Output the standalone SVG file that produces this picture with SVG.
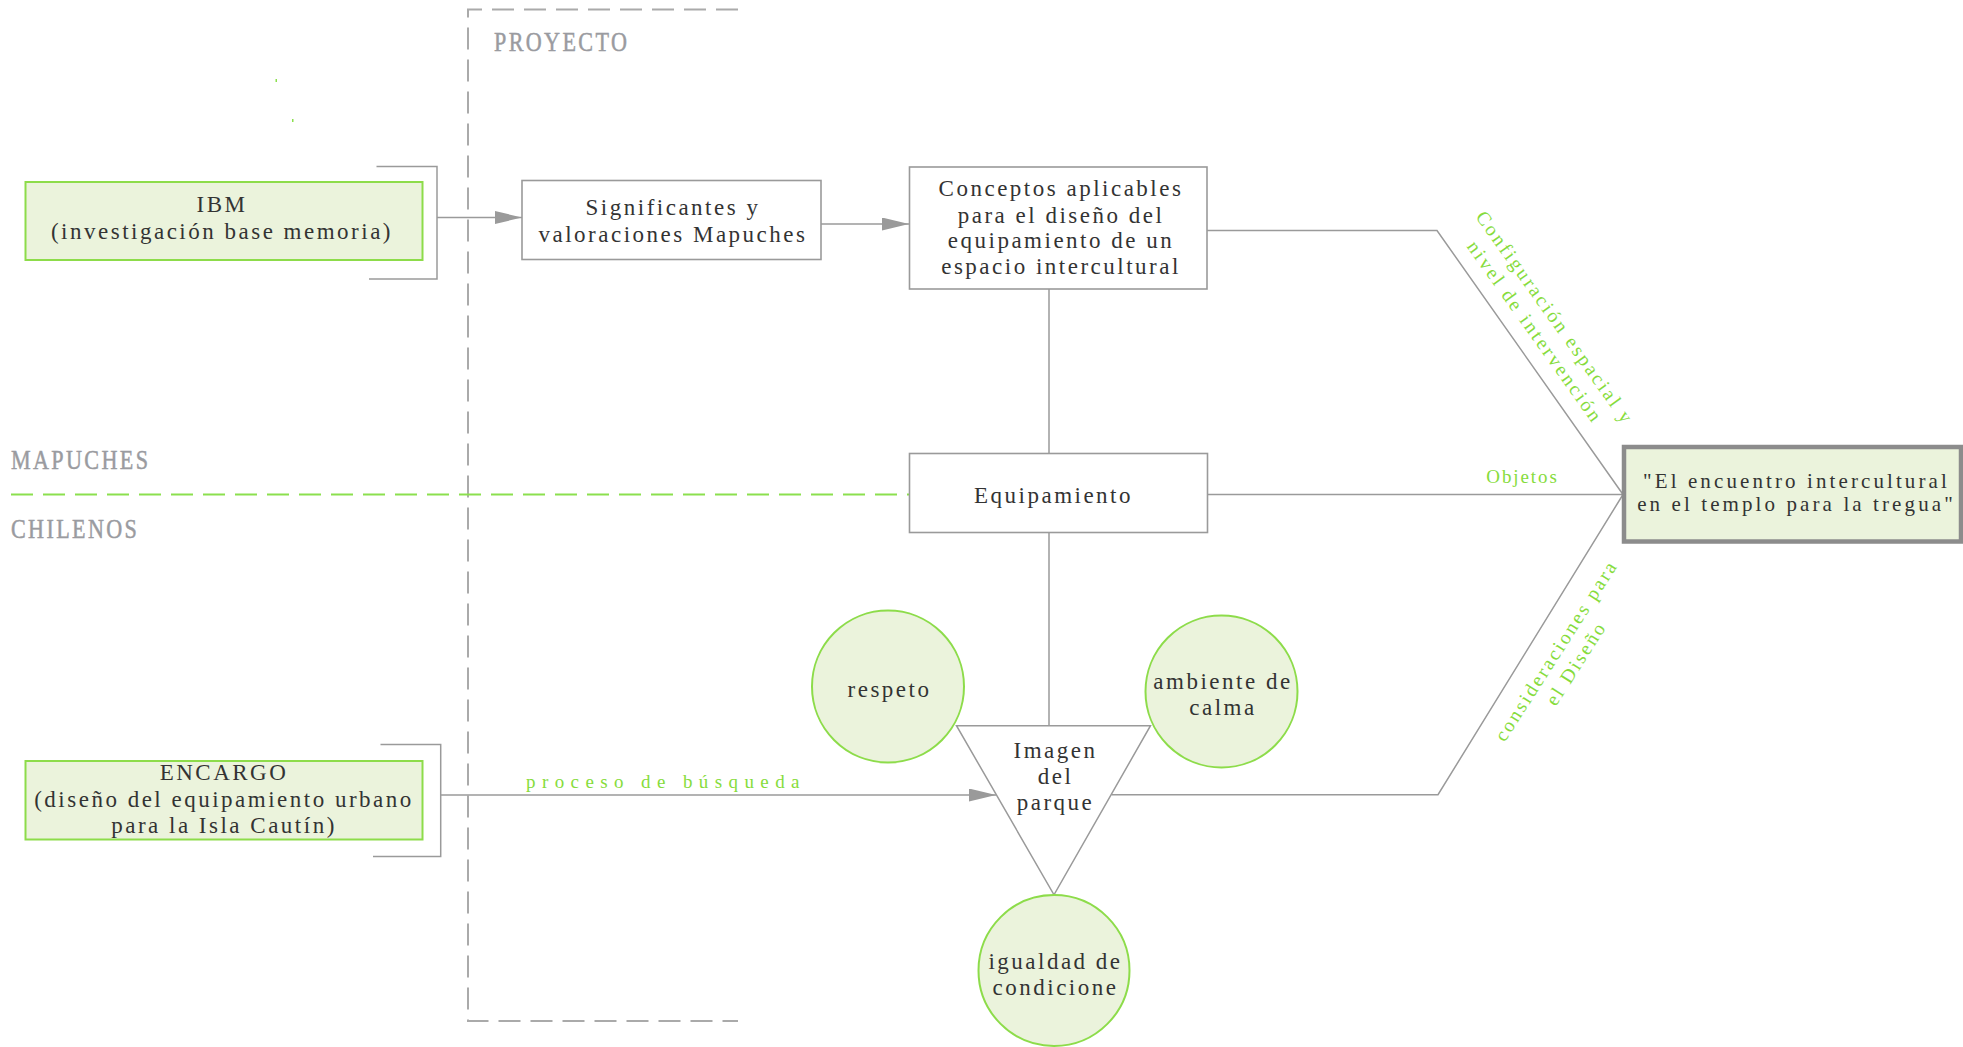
<svg xmlns="http://www.w3.org/2000/svg" width="1963" height="1047" viewBox="0 0 1963 1047">
<style>
.t{font-family:"Liberation Serif","Times New Roman",serif;font-size:23px;fill:#333;letter-spacing:2.5px;text-anchor:middle}
.lab{font-family:"Liberation Serif","Times New Roman",serif;font-size:28px;fill:#9a9ba0;stroke:#9a9ba0;stroke-width:0.5;letter-spacing:3px}
.g{font-family:"Liberation Serif","Times New Roman",serif;fill:#86dc3c;text-anchor:middle}
.box{fill:#fff;stroke:#9a9a9a;stroke-width:1.6}
.gbox{fill:#ebf3dc;stroke:#8ddc4a;stroke-width:2}
.ln{fill:none;stroke:#9a9a9a;stroke-width:1.5}
</style>
<defs>
<marker id="arr" viewBox="0 0 27 13" refX="27" refY="6.5" markerWidth="27" markerHeight="13" markerUnits="userSpaceOnUse" orient="auto">
<path d="M0,0 L27,6.5 L0,13 Z" fill="#9a9a9a"/>
</marker>
</defs>
<rect width="1963" height="1047" fill="#fff"/>

<g id="frame">
<path d="M738,9.5 H468 V1021 H738" fill="none" stroke="#aaa" stroke-width="2" stroke-dasharray="22 10"/>
<path d="M11,494.5 H909" fill="none" stroke="#8be04e" stroke-width="2" stroke-dasharray="22 10"/>
<text class="lab" transform="translate(494,50.5) scale(0.79,1)">PROYECTO</text>
<text class="lab" transform="translate(11,468.5) scale(0.79,1)">MAPUCHES</text>
<text class="lab" transform="translate(11,537.5) scale(0.79,1)">CHILENOS</text>
<rect x="275.5" y="79" width="1.5" height="3" fill="#8be04e"/>
<rect x="292" y="119" width="1.5" height="3" fill="#8be04e"/>
</g>

<g id="connectors">
<path class="ln" d="M376.5,166.5 H437 V279 H369"/>
<path class="ln" d="M380.5,744.5 H440.7 V856.5 H373"/>
<path class="ln" d="M437,217.5 H522" marker-end="url(#arr)"/>
<path class="ln" d="M821,224 H909" marker-end="url(#arr)"/>
<path class="ln" d="M440.7,795 H996" marker-end="url(#arr)"/>
<path class="ln" d="M1049,289 V453"/>
<path class="ln" d="M1049,532.5 V725.7"/>
<path class="ln" d="M1207,230.5 H1437 L1623,494.5"/>
<path class="ln" d="M1208,494.5 H1623"/>
<path class="ln" d="M1111.5,794.7 H1438 L1623,494.5"/>
<text class="g" x="1522.5" y="483" style="font-size:19px;letter-spacing:1.9px">Objetos</text>
<text class="g" x="666" y="788" style="font-size:19px;letter-spacing:6.4px">proceso de búsqueda</text>
<text class="g" transform="translate(1549,320.5) rotate(54.5)" style="font-size:19.5px;letter-spacing:2.6px"><tspan x="1.3" y="0">Configuración espacial y</tspan><tspan x="1.3" y="24.5">nivel de intervención</tspan></text>
<text class="g" transform="translate(1561,655) rotate(-57.4)" style="font-size:19.5px;letter-spacing:2.4px"><tspan x="1.2" y="0">consideraciones para</tspan><tspan x="1.2" y="23.7">el Diseño</tspan></text>
</g>

<g id="ibm">
<rect class="gbox" x="25.5" y="182" width="397" height="78"/>
<text class="t" x="222" y="211.5">IBM</text>
<text class="t" x="222" y="239">(investigación base memoria)</text>
</g>

<g id="encargo">
<rect class="gbox" x="25.5" y="761" width="397" height="78.5"/>
<text class="t" x="224" y="780">ENCARGO</text>
<text class="t" x="224" y="806.5">(diseño del equipamiento urbano</text>
<text class="t" x="224" y="833">para la Isla Cautín)</text>
</g>

<g id="significantes">
<rect class="box" x="522" y="180.5" width="299" height="79"/>
<text class="t" x="673" y="215">Significantes y</text>
<text class="t" x="673" y="241.5">valoraciones Mapuches</text>
</g>

<g id="conceptos">
<rect class="box" x="909.5" y="167" width="297.5" height="122"/>
<text class="t" x="1061" y="196">Conceptos aplicables</text>
<text class="t" x="1061" y="222.5">para el diseño del</text>
<text class="t" x="1061" y="248.3">equipamiento de un</text>
<text class="t" x="1061" y="274.3">espacio intercultural</text>
</g>

<g id="equipamiento">
<rect class="box" x="909.5" y="453.5" width="298" height="79"/>
<text class="t" x="1053.5" y="502.5">Equipamiento</text>
</g>

<g id="respeto">
<circle class="gbox" cx="888" cy="686.5" r="76"/>
<text class="t" x="889.5" y="696.5">respeto</text>
</g>

<g id="ambiente">
<circle class="gbox" cx="1221.5" cy="691.5" r="76"/>
<text class="t" x="1223" y="688.5">ambiente de</text>
<text class="t" x="1223" y="714.5">calma</text>
</g>

<g id="imagen">
<path d="M956.5,725.7 H1150.5 L1054,894.8 Z" fill="#fff" stroke="#9a9a9a" stroke-width="1.5"/>
<text class="t" x="1055.5" y="758">Imagen</text>
<text class="t" x="1055.5" y="784">del</text>
<text class="t" x="1055.5" y="810">parque</text>
</g>

<g id="igualdad">
<circle class="gbox" cx="1054" cy="970.5" r="75.5"/>
<text class="t" x="1055.5" y="969">igualdad de</text>
<text class="t" x="1055.5" y="995">condicione</text>
</g>

<g id="encuentro">
<rect x="1624" y="447" width="337" height="94.5" fill="#ebf3dc" stroke="#8c8c8c" stroke-width="4.5"/>
<text class="t" x="1796.5" y="487.5" style="font-size:21px;letter-spacing:3.1px">"El encuentro intercultural</text>
<text class="t" x="1796.5" y="511" style="font-size:21px;letter-spacing:3.1px">en el templo para la tregua"</text>
</g>
</svg>
